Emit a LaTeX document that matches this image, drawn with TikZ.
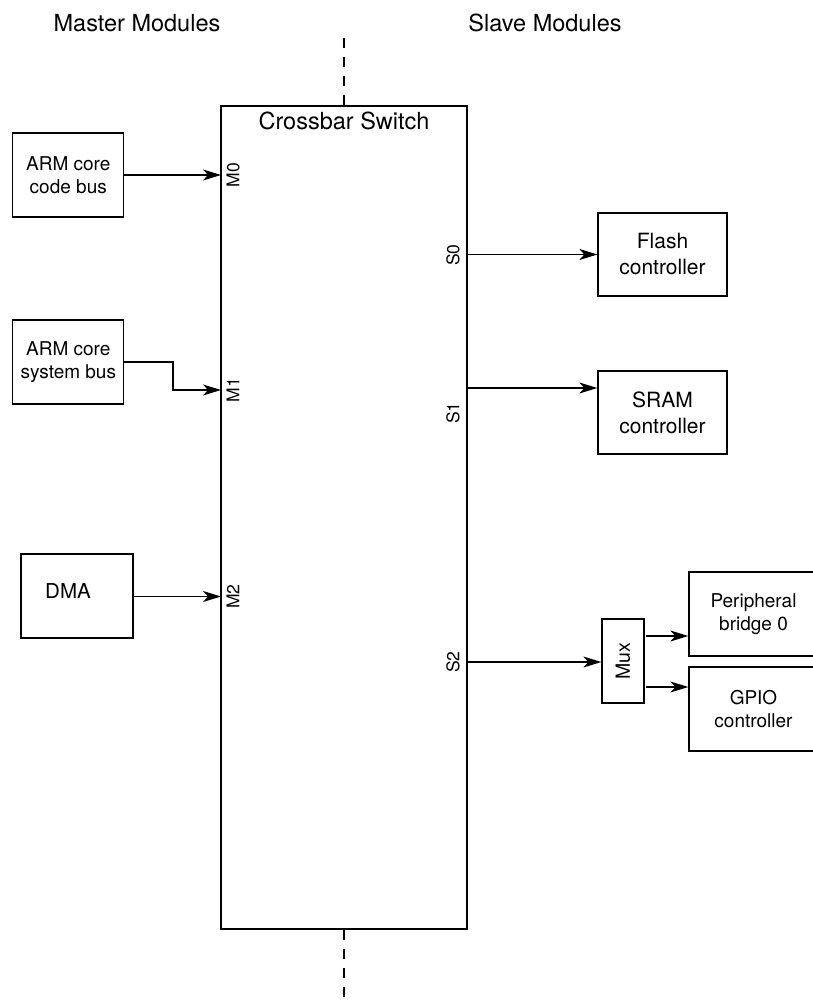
\documentclass[tikz,border=0pt]{standalone}
\usepackage{fontspec}
\setmainfont{TeX Gyre Heros}
\usetikzlibrary{arrows.meta,calc}
\tikzset{
  box/.style={draw, line width=1.3pt, inner sep=0pt, align=center},
  boxtxt/.style={font=\fontsize{19}{23}\selectfont},
  bigtxt/.style={font=\fontsize{21}{26}\selectfont},
  heading/.style={font=\fontsize{23.5}{28}\selectfont, inner sep=0pt, anchor=base},
  port/.style={font=\fontsize{17.5}{20}\selectfont, rotate=90, inner sep=0pt},
  arr/.style={line width=1.3pt, -{Stealth[length=18pt, width=11pt, inset=5pt]}},
  dline/.style={line width=1.3pt, dash pattern=on 10pt off 9pt}
}
\begin{document}
\begin{tikzpicture}[x=1pt,y=-1pt]
\useasboundingbox (0,0) rectangle (812,1000);

% headings
\node[heading] (hm) at (137,32) {Master Modules};
\node[heading] (hs) at (545,32) {Slave Modules};

% crossbar
\node[box, minimum width=246pt, minimum height=823pt] (xbar) at (344,517.5) {};
\node[heading] (xt) at (344,130) {Crossbar Switch};
\coordinate (dtop) at (344,33);
\coordinate (dbot) at (344,1000);
\draw[dline] (xbar.north) -- (dtop);
\draw[dline] (xbar.south) -- (dbot);

% masters
\node[box, boxtxt, minimum width=111pt, minimum height=84pt] (arm1) at (68.3,175) {ARM core\\code bus};
\node[box, boxtxt, minimum width=111pt, minimum height=84pt] (arm2) at (68.3,362) {ARM core\\system bus};
\node[box, minimum width=112pt, minimum height=84pt] (dma) at (77,596) {};
\node[font=\fontsize{20.5}{24}\selectfont, inner sep=0pt] (dmat) at (68,591) {DMA};

\coordinate (m0) at (221,175);
\coordinate (m1) at (221,390);
\coordinate (m1b) at (173,362);
\coordinate (m2) at (221,596.5);
\draw[arr] (arm1.east) -- (m0);
\draw[arr] (arm2.east) -- (m1b) |- (m1);
\draw[arr] (dma.east |- m2) -- (m2);
\node[port] (lm0) at (233,175) {M0};
\node[port] (lm1) at (233,390) {M1};
\node[port] (lm2) at (233,596.5) {M2};

% slaves
\node[box, bigtxt, minimum width=129pt, minimum height=83pt] (flash) at (662.5,254.5) {Flash\\controller};
\node[box, bigtxt, minimum width=129pt, minimum height=83pt] (sram) at (662.5,412.5) {SRAM\\controller};
\node[box, font=\fontsize{19}{24}\selectfont, minimum width=42pt, minimum height=84pt] (mux) at (623,661) {};
\node[port, font=\fontsize{19.5}{22}\selectfont] (muxt) at (623,661) {Mux};
\node[box, boxtxt, minimum width=129pt, minimum height=84pt] (per) at (753.5,614) {Peripheral\\bridge 0};
\node[box, boxtxt, minimum width=129pt, minimum height=84pt] (gpio) at (753.5,709) {GPIO\\controller};

\coordinate (s0) at (467,254.5);
\coordinate (s1) at (467,388);
\coordinate (s2) at (467,662);
\draw[arr] (s0) -- (flash.west |- s0);
\draw[arr] (s1) -- (sram.west |- s1);
\draw[arr] (s2) -- (mux.west |- s2);
\coordinate (mx1) at (646,636);
\coordinate (mx2) at (646,687);
\draw[arr] (mx1) -- (per.west |- mx1);
\draw[arr] (mx2) -- (gpio.west |- mx2);
\node[port] (ls0) at (453,255) {S0};
\node[port] (ls1) at (453,413) {S1};
\node[port] (ls2) at (453,662) {S2};
\end{tikzpicture}
\end{document}
